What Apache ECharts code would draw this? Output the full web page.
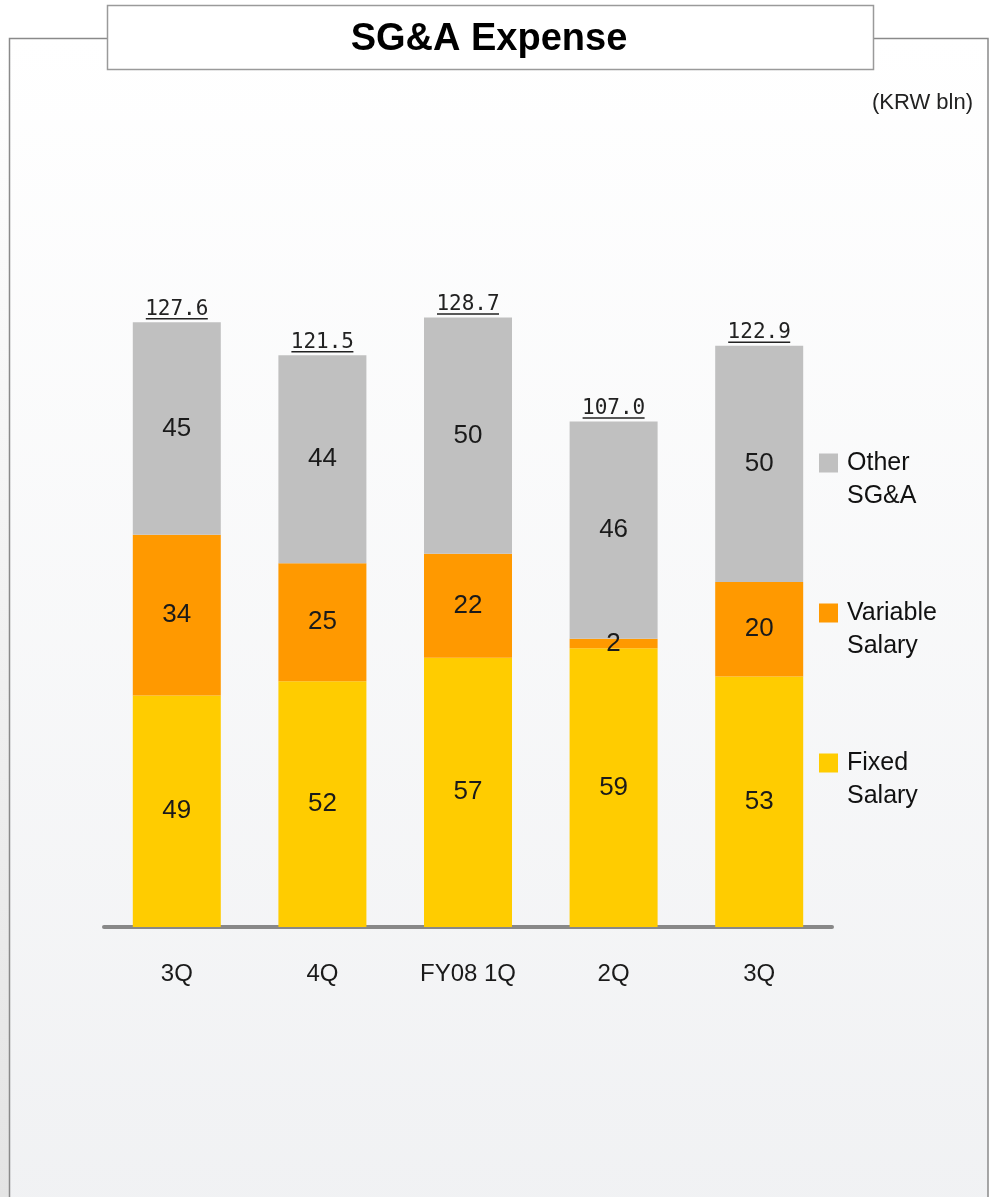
<!DOCTYPE html>
<html>
<head>
<meta charset="utf-8">
<script src="https://cdn.jsdelivr.net/npm/echarts@6/dist/echarts.min.js"></script>
<style>
  html, body { margin: 0; padding: 0; background: #ffffff; }
  #chart { width: 993px; height: 1197px; }
</style>
</head>
<body>
<div id="chart"></div>
<script>
// Quarterly SG&A expense, KRW bln
const categories = ['3Q', '4Q', 'FY08 1Q', '2Q', '3Q'];
const fixedSalary = [49, 52, 57, 59, 53];
const variableSalary = [34, 25, 22, 2, 20];
const otherSGA = [45, 44, 50, 46, 50];
const totals = [127.6, 121.5, 128.7, 107.0, 122.9];

const BAR_W = 88;
const LABEL_FONT = 'Liberation Sans, Arial, sans-serif';

const insideLabel = {
  show: true,
  position: 'inside',
  fontFamily: LABEL_FONT,
  fontSize: 26,
  color: '#1a1a1a'
};

const chart = echarts.init(document.getElementById('chart'), null, { renderer: 'canvas' });

chart.setOption({
  animation: false,
  backgroundColor: '#ffffff',
  graphic: [
    // textured margin on the left edge
    { type: 'rect', z: -20, shape: { x: 0, y: 40, width: 9, height: 1160 },
      style: {
        fill: new echarts.graphic.LinearGradient(0, 0, 0, 1, [
          { offset: 0, color: '#ffffff' },
          { offset: 1, color: '#e4e4e4' }
        ])
      } },
    // outer panel with soft vertical gradient
    { type: 'rect', z: -10, shape: { x: 9.5, y: 38.5, width: 978.5, height: 1200 },
      style: {
        fill: new echarts.graphic.LinearGradient(0, 0, 0, 1, [
          { offset: 0, color: '#ffffff' },
          { offset: 1, color: '#f0f1f3' }
        ]),
        stroke: '#8a8a8a', lineWidth: 1.5
      } },
    // title box
    { type: 'rect', z: -5, shape: { x: 107.5, y: 5.5, width: 766, height: 64 },
      style: { fill: '#ffffff', stroke: '#9a9a9a', lineWidth: 1.5 } }
  ],
  title: [
    {
      text: 'SG&A Expense',
      left: 484,
      textAlign: 'center',
      top: 16,
      textStyle: { fontFamily: LABEL_FONT, fontWeight: 'bold', fontSize: 38, color: '#000000' }
    },
    {
      text: '(KRW bln)',
      right: 15,
      top: 87,
      textStyle: { fontFamily: LABEL_FONT, fontWeight: 'normal', fontSize: 22, color: '#222222' }
    }
  ],
  legend: {
    orient: 'vertical',
    left: 819,
    top: 413.5,
    padding: 0,
    icon: 'rect',
    itemWidth: 19,
    itemHeight: 19,
    itemGap: 51,
    data: ['Other SG&A', 'Variable Salary', 'Fixed Salary'],
    // blank leading line keeps the icon level with the first word
    formatter: name => '\n' + name.replace(' ', '\n'),
    textStyle: {
      fontFamily: LABEL_FONT,
      fontSize: 25,
      lineHeight: 33,
      color: '#111111',
      padding: [0, 0, 0, 4]
    }
  },
  grid: { left: 104, right: 161, top: 312.7, bottom: 270, containLabel: false },
  xAxis: {
    type: 'category',
    data: categories,
    axisTick: { show: false },
    axisLine: { show: true, lineStyle: { color: '#888888', width: 4, cap: 'round' } },
    axisLabel: { margin: 35, fontFamily: LABEL_FONT, fontSize: 24, color: '#1a1a1a' }
  },
  yAxis: {
    type: 'value',
    min: 0,
    max: 130,
    show: false,
    splitLine: { show: false }
  },
  series: [
    {
      name: 'Fixed Salary', type: 'bar', stack: 'sga', barWidth: BAR_W,
      data: fixedSalary, itemStyle: { color: '#ffcc00' }, label: insideLabel
    },
    {
      name: 'Variable Salary', type: 'bar', stack: 'sga', barWidth: BAR_W,
      data: variableSalary, itemStyle: { color: '#ff9900' }, label: insideLabel
    },
    {
      name: 'Other SG&A', type: 'bar', stack: 'sga', barWidth: BAR_W,
      data: otherSGA, itemStyle: { color: '#c0c0c0' }, label: insideLabel
    },
    {
      // zero-height cap carrying the underlined total above each bar
      name: 'Total', type: 'bar', stack: 'sga', barWidth: BAR_W,
      data: totals.map(() => 0),
      itemStyle: { color: 'transparent' },
      label: {
        show: true,
        position: 'top',
        distance: 2,
        formatter: p => '{v|' + totals[p.dataIndex].toFixed(1) + '}\n{u|}',
        rich: {
          v: { fontFamily: 'DejaVu Sans Mono, monospace', fontSize: 21, lineHeight: 16, color: '#222222', align: 'center' },
          u: { width: 62, height: 1.5, lineHeight: 3, backgroundColor: '#222222', align: 'center' }
        }
      }
    }
  ]
});
</script>
</body>
</html>
